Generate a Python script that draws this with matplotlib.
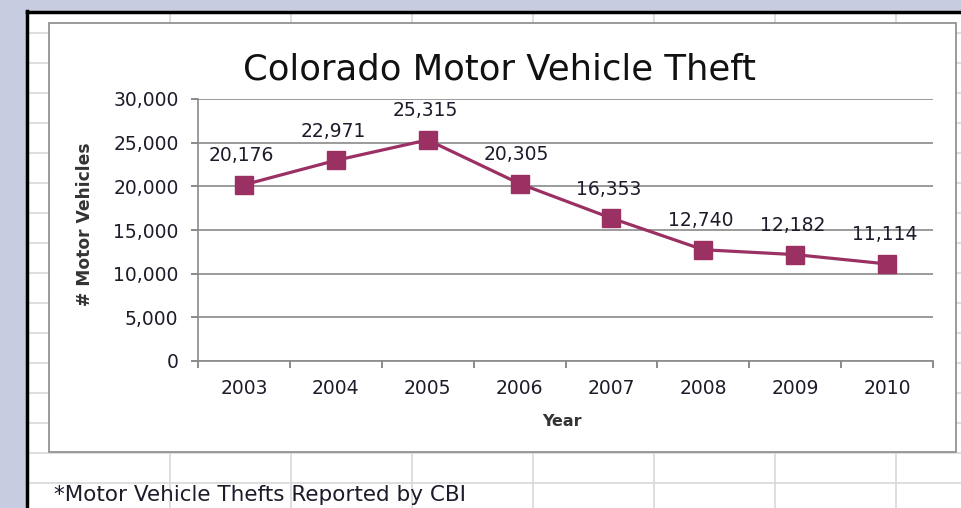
import matplotlib.pyplot as plt
from matplotlib.patches import Rectangle
from matplotlib.lines import Line2D

years = ['2003', '2004', '2005', '2006', '2007', '2008', '2009', '2010']
thefts = [20176, 22971, 25315, 20305, 16353, 12740, 12182, 11114]
y_ticks = [0, 5000, 10000, 15000, 20000, 25000, 30000]

W, H = 961, 508
txt = '#1c1c2a'
line_col = '#9b3163'

fig = plt.figure(figsize=(W / 100, H / 100), dpi=100)

# spreadsheet backdrop, drawn in pixel coords
bg = fig.add_axes([0, 0, 1, 1])
bg.set_xlim(0, W)
bg.set_ylim(H, 0)
bg.axis('off')
bg.add_patch(Rectangle((0, 0), W, H, color='white', zorder=0))
bg.add_patch(Rectangle((0, 0), 27, H, color='#c8cce0', zorder=1))
bg.add_patch(Rectangle((0, 0), W, 11, color='#c8cce0', zorder=1))
for yy in range(33, H, 30):
    bg.add_line(Line2D([28, W], [yy, yy], color='#d8d8d8', lw=1.2, zorder=2))
for xx in range(170, W, 121):
    bg.add_line(Line2D([xx, xx], [12, H], color='#d8d8d8', lw=1.2, zorder=2))
bg.add_line(Line2D([27, 27], [11, H], color='black', lw=2.5, zorder=3))
bg.add_line(Line2D([27, W], [12, 12], color='black', lw=2.5, zorder=3))
bg.add_patch(Rectangle((49, 23), 907, 429, facecolor='white',
                       edgecolor='#8a8a8a', lw=1.2, zorder=4))
bg.text(54, 495, '*Motor Vehicle Thefts Reported by CBI', fontsize=15.5,
        color=txt, va='center', ha='left', zorder=5)

# chart area
ax = fig.add_axes([198 / W, 147 / H, 735 / W, 262 / H])
ax.patch.set_alpha(0)
x = list(range(len(years)))
ax.plot(x, thefts, color=line_col, lw=2.3, marker='s', markersize=12.5,
        markeredgecolor=line_col, zorder=3)
for xi, v in zip(x, thefts):
    ax.annotate(f'{v:,}', (xi, v), xytext=(-2, 14), textcoords='offset points',
                ha='center', va='bottom', fontsize=13.5, color=txt, zorder=4)

ax.set_xlim(-0.5, len(years) - 0.5)
ax.set_ylim(0, 30000)
ax.set_yticks(y_ticks)
ax.set_yticklabels([f'{t:,}' for t in y_ticks])
ax.set_xticks(x)
ax.set_xticklabels(years)
ax.set_xticks([i - 0.5 for i in range(len(years) + 1)], minor=True)
ax.tick_params(axis='x', which='major', length=0, pad=13, labelsize=13.5, labelcolor=txt)
ax.tick_params(axis='x', which='minor', length=5, width=1.2, color='#777777')
ax.tick_params(axis='y', length=5, width=1.2, color='#777777', pad=9,
               labelsize=13.5, labelcolor=txt)
ax.grid(axis='y', color='#8a8a8a', lw=1.2)
ax.set_axisbelow(True)
for s in ['top', 'right']:
    ax.spines[s].set_visible(False)
for s in ['left', 'bottom']:
    ax.spines[s].set_color('#8a8a8a')
    ax.spines[s].set_linewidth(1.2)

fig.text(500 / W, 1 - 70 / H, 'Colorado Motor Vehicle Theft', fontsize=25.5,
         ha='center', va='center', color='#111111')
fig.text(85 / W, 1 - 224 / H, '# Motor Vehicles', fontsize=12.3, fontweight='bold',
         rotation=90, ha='center', va='center', color='#333333')
fig.text(562 / W, 1 - 422 / H, 'Year', fontsize=11.5, fontweight='bold',
         ha='center', va='center', color='#333333')

fig.savefig('out.png', dpi=100)
